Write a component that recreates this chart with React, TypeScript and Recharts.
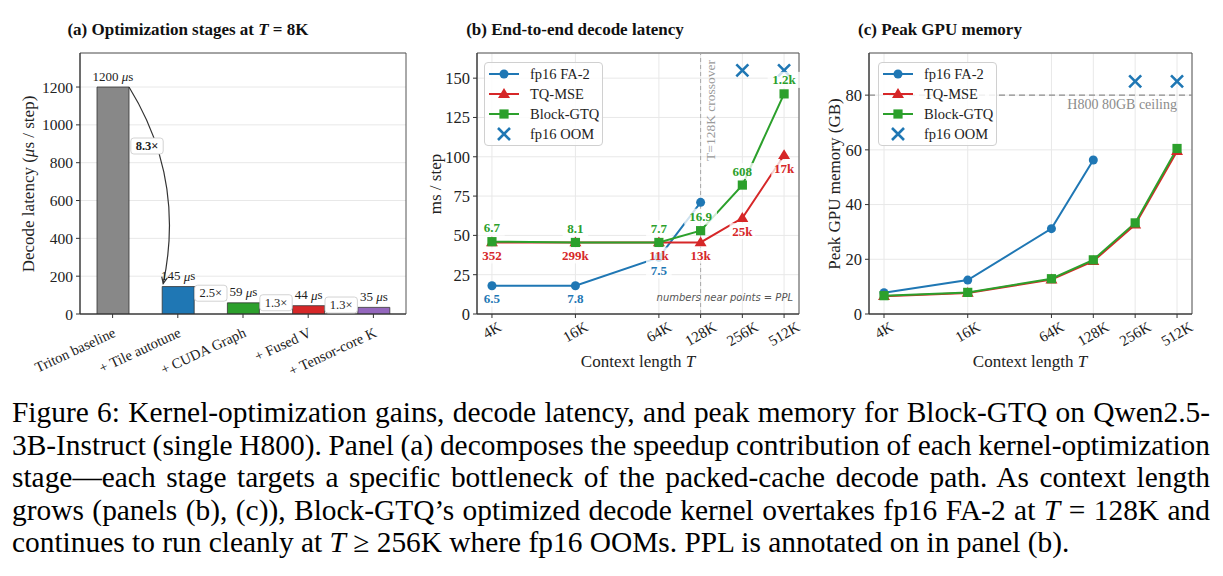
import React from 'react'
import {
  BarChart,
  Bar,
  Cell,
  LineChart,
  Line,
  XAxis,
  YAxis,
  CartesianGrid,
  ReferenceArea,
  ReferenceLine,
} from 'recharts'

// ---- panel (a): kernel optimization stages at T = 8K ----
const stages = ['Triton baseline', '+ Tile autotune', '+ CUDA Graph', '+ Fused V', '+ Tensor-core K']
const stageLatencyUs = [1200, 145, 59, 44, 35]
const stageSpeedups = ['8.3×', '2.5×', '1.3×', '1.3×']
const stageTicks = [0, 200, 400, 600, 800, 1000, 1200]

// ---- panels (b), (c): context sweep ----
const contextK = [4, 16, 64, 128, 256, 512]
const latFa2 = [18, 18, 36, 71, null, null]
const latTq = [45.5, 45.5, 45.5, 45.5, 61, 101]
const latGtq = [46, 45.5, 45.5, 53, 82, 140]
const latOom = [null, null, null, null, 155, 155]
const pplFa2 = ['6.5', '7.8', '7.5', '', '', '']
const pplTq = ['352', '299k', '11k', '13k', '25k', '17k']
const pplGtq = ['6.7', '8.1', '7.7', '16.9', '608', '1.2k']
const latTicks = [0, 25, 50, 75, 100, 125, 150]

const memFa2 = [7.8, 12.4, 31.2, 56.3, null, null]
const memTq = [6.5, 7.7, 12.6, 19.3, 32.7, 59.5]
const memGtq = [6.7, 7.9, 12.9, 19.8, 33.3, 60.5]
const memOom = [null, null, null, null, 85, 85]
const memTicks = [0, 20, 40, 60, 80]
const memCeiling = 80

const seriesNames = ['fp16 FA-2', 'TQ-MSE', 'Block-GTQ', 'fp16 OOM']

const BLUE = '#1f77b4'
const RED = '#d62728'
const GREEN = '#2ca02c'
const PURPLE = '#9467bd'
const GRAY = '#888888'
const stageColors = [GRAY, BLUE, GREEN, RED, PURPLE]
const INK = '#222'
const FRAME = '#555'
const GRID = '#e8e8e8'
const FONT = '"Liberation Serif", "Times New Roman", serif'

const stageRows = stages.map((s, i) => ({ stage: s, us: stageLatencyUs[i] }))
const latencyRows = contextK.map((k, i) => ({ ctx: k, fa2: latFa2[i], tq: latTq[i], gtq: latGtq[i], oom: latOom[i] }))
const memRows = contextK.map((k, i) => ({ ctx: k, fa2: memFa2[i], tq: memTq[i], gtq: memGtq[i], oom: memOom[i] }))

const LOG_DOMAIN = [3.12, 656]
const PLOT_A_W = 326

type Kind = 'circle' | 'triangle' | 'square' | 'x'

function Marker({ cx, cy, kind, color }: { cx: number; cy: number; kind: Kind; color: string }) {
  if (kind === 'circle') return <circle cx={cx} cy={cy} r={4.5} fill={color} />
  if (kind === 'triangle') {
    const r = 6
    return <path d={`M${cx},${cy - r}L${cx + r},${cy + r * 0.65}L${cx - r},${cy + r * 0.65}Z`} fill={color} />
  }
  if (kind === 'square') return <rect x={cx - 4.6} y={cy - 4.6} width={9.2} height={9.2} fill={color} />
  const h = 6
  return (
    <path
      d={`M${cx - h},${cy - h}L${cx + h},${cy + h}M${cx + h},${cy - h}L${cx - h},${cy + h}`}
      stroke={color}
      strokeWidth={2.6}
      fill="none"
    />
  )
}

const markerDot = (kind: Kind, color: string) => (p: any) => {
  if (p.cx == null || p.cy == null || p.value == null || Number.isNaN(+p.cy)) return <g key={`d${p.index}`} />
  return (
    <g key={`d${p.index}`}>
      <Marker cx={p.cx} cy={p.cy} kind={kind} color={color} />
    </g>
  )
}

const pplLabel = (texts: string[], color: string, dy: number) => (p: any) => {
  const t = texts[p.index]
  if (!t || p.value == null || p.y == null) return <g key={`l${p.index}`} />
  const w = t.length * 7.2 + 4
  const cy = +p.y + dy
  return (
    <g key={`l${p.index}`}>
      <rect x={+p.x - w / 2} y={cy - 8} width={w} height={16} fill="#fff" fillOpacity={0.78} />
      <text x={+p.x} y={cy} textAnchor="middle" dominantBaseline="central" fontSize={13} fontWeight="bold" fill={color}>
        {t}
      </text>
    </g>
  )
}

function arrowHead(ex: number, ey: number, dx: number, dy: number) {
  const L = Math.hypot(dx, dy)
  const ux = dx / L
  const uy = dy / L
  const a = 0.42
  const len = 7
  const c = Math.cos(a)
  const s = Math.sin(a)
  const p1x = ex - len * (ux * c - uy * s)
  const p1y = ey - len * (uy * c + ux * s)
  const p2x = ex - len * (ux * c + uy * s)
  const p2y = ey - len * (uy * c - ux * s)
  return `M${p1x},${p1y}L${ex},${ey}L${p2x},${p2y}`
}

function SpeedBox({ x, y, text, bold }: { x: number; y: number; text: string; bold?: boolean }) {
  const w = text.length * 6.6 + 6
  return (
    <g>
      <rect x={x - w / 2} y={y - 8} width={w} height={16} rx={3} fill="#fff" stroke="#c8c8c8" strokeWidth={0.8} />
      <text x={x} y={y} textAnchor="middle" dominantBaseline="central" fontSize={12.5} fontWeight={bold ? 'bold' : 'normal'} fill={INK}>
        {text}
      </text>
    </g>
  )
}

const renderStageLabel = (p: any) => {
  const i = p.index
  const x = +p.x
  const y = +p.y
  const w = +p.width
  const h = +p.height
  const v = +p.value
  const k = h / v
  const base = y + h
  const band = PLOT_A_W / stages.length
  const parts: React.ReactNode[] = [
    <text key="v" x={x + w / 2} y={y - 11} textAnchor="middle" dominantBaseline="central" fontSize={13} fill={INK}>
      {v} <tspan fontStyle="italic">μ</tspan>s
    </text>,
  ]
  if (i < stages.length - 1) {
    const nTop = base - stageLatencyUs[i + 1] * k
    const nx = x + band
    if (i === 0) {
      const sx = x + w
      const sy = y
      const ex = nx + 1
      const ey = nTop - 3
      const vx = ex - sx
      const vy = ey - sy
      const rad = 0.2
      const cx = (sx + ex) / 2 + rad * vy
      const cy = (sy + ey) / 2 - rad * vx
      parts.push(
        <g key="a">
          <path d={`M${sx},${sy}Q${cx},${cy} ${ex},${ey}`} fill="none" stroke="#333" strokeWidth={1.2} />
          <path d={arrowHead(ex, ey, ex - cx, ey - cy)} fill="none" stroke="#333" strokeWidth={1.2} />
          <SpeedBox x={sx + 18} y={sy + 0.3 * vy} text={stageSpeedups[i]} bold />
        </g>,
      )
    } else {
      const sx = x + w
      const sy = y
      const ex = nx - 2
      const ey = nTop - 3
      parts.push(
        <g key="a">
          <path d={`M${sx},${sy}L${ex},${ey}`} fill="none" stroke="#333" strokeWidth={1.1} />
          <path d={arrowHead(ex, ey, ex - sx, ey - sy)} fill="none" stroke="#333" strokeWidth={1.1} />
          <SpeedBox x={(sx + ex) / 2 + 1} y={(sy + ey) / 2} text={stageSpeedups[i]} />
        </g>,
      )
    }
  }
  return <g key={`s${i}`}>{parts}</g>
}

const StageTick = (p: any) => {
  const px = p.x + 4
  const py = p.y + 15
  return (
    <text x={px} y={py} textAnchor="end" fontSize={14.5} fill={INK} transform={`rotate(-25 ${px} ${py})`}>
      {p.payload.value}
    </text>
  )
}

const CtxTick = (p: any) => {
  const label = `${p.payload.value}K`
  const w = label.length * 7.6
  const cy = p.y + (w * 0.5 + 12 * 0.866) / 2
  return (
    <text x={p.x} y={cy} textAnchor="middle" dominantBaseline="central" fontSize={15} fill={INK} transform={`rotate(-30 ${p.x} ${cy})`}>
      {label}
    </text>
  )
}

const crossLabel = (p: any) => {
  const vb = p.viewBox
  const x = vb.x + 14
  const y = vb.y + 7
  return (
    <text x={x} y={y} transform={`rotate(-90 ${x} ${y})`} textAnchor="end" fontSize={13.5} fill="#9a9a9a">
      T=128K crossover
    </text>
  )
}

const ceilingLabel = (p: any) => {
  const vb = p.viewBox
  return (
    <text x={vb.x + vb.width - 15} y={vb.y + 9} textAnchor="end" dominantBaseline="central" fontSize={14} fill="#8c8c8c">
      H800 80GB ceiling
    </text>
  )
}

const legendRows: { kind: Kind; color: string; line: boolean }[] = [
  { kind: 'circle', color: BLUE, line: true },
  { kind: 'triangle', color: RED, line: true },
  { kind: 'square', color: GREEN, line: true },
  { kind: 'x', color: BLUE, line: false },
]

function SeriesLegend({ left, top }: { left: number; top: number }) {
  return (
    <div
      style={{
        position: 'absolute',
        left,
        top,
        width: 119,
        height: 84,
        border: '1px solid #d0d0d0',
        borderRadius: 4,
        background: 'rgba(255,255,255,0.85)',
        boxSizing: 'border-box',
      }}
    >
      {legendRows.map((r, i) => (
        <div key={i} style={{ position: 'absolute', left: 0, top: 1 + i * 20, height: 20, display: 'flex', alignItems: 'center' }}>
          <svg width={45} height={20} style={{ display: 'block' }}>
            {r.line && <line x1={4} x2={34} y1={10} y2={10} stroke={r.color} strokeWidth={2} />}
            <Marker cx={19} cy={10} kind={r.kind} color={r.color} />
          </svg>
          <span style={{ fontSize: 14.5, color: INK, whiteSpace: 'nowrap' }}>{seriesNames[i]}</span>
        </div>
      ))}
    </div>
  )
}

function Title({ cx, children }: { cx: number; children: React.ReactNode }) {
  return (
    <div
      style={{
        position: 'absolute',
        left: cx,
        top: 30,
        transform: 'translate(-50%, -50%)',
        fontSize: 17,
        fontWeight: 'bold',
        whiteSpace: 'nowrap',
        color: '#111',
      }}
    >
      {children}
    </div>
  )
}

function AxisLabel({ cx, cy, rotate, children }: { cx: number; cy: number; rotate?: boolean; children: React.ReactNode }) {
  return (
    <div
      style={{
        position: 'absolute',
        left: cx,
        top: cy,
        transform: `translate(-50%, -50%)${rotate ? ' rotate(-90deg)' : ''}`,
        fontSize: 17,
        whiteSpace: 'nowrap',
        color: INK,
        lineHeight: '20px',
      }}
    >
      {children}
    </div>
  )
}

const axisProps = {
  tickSize: 4,
  tickMargin: 3,
  axisLine: { stroke: '#333' },
  tickLine: { stroke: '#333' },
}

function PanelA() {
  return (
    <BarChart width={410} height={380} data={stageRows} margin={{ top: 53, right: 4, bottom: 36, left: 40 }}>
      <CartesianGrid vertical={false} stroke={GRID} />
      <ReferenceArea y1={0} y2={1380} fill="none" stroke={FRAME} strokeWidth={1} ifOverflow="visible" />
      <XAxis dataKey="stage" type="category" interval={0} height={30} tick={StageTick} {...axisProps} />
      <YAxis
        type="number"
        domain={[0, 1380]}
        ticks={stageTicks}
        interval={0}
        allowDataOverflow
        width={40}
        tick={{ fontSize: 15.5, fill: INK }}
        {...axisProps}
      />
      <Bar dataKey="us" barSize={32} stroke="#333" strokeWidth={0.8} isAnimationActive={false} label={renderStageLabel}>
        {stageRows.map((r, i) => (
          <Cell key={r.stage} fill={stageColors[i]} />
        ))}
      </Bar>
    </BarChart>
  )
}

function ContextChart({
  rows,
  width,
  margin,
  yDomain,
  yTicks,
  yWidth,
  withPpl,
  children,
}: {
  rows: any[]
  width: number
  margin: { top: number; right: number; bottom: number; left: number }
  yDomain: number[]
  yTicks: number[]
  yWidth: number
  withPpl: boolean
  children?: React.ReactNode
}) {
  return (
    <LineChart width={width} height={380} data={rows} margin={margin}>
      <CartesianGrid stroke={GRID} />
      <ReferenceArea y1={yDomain[0]} y2={yDomain[1]} fill="none" stroke={FRAME} strokeWidth={1} ifOverflow="visible" />
      <XAxis
        dataKey="ctx"
        type="number"
        scale="log"
        domain={LOG_DOMAIN}
        ticks={contextK}
        interval={0}
        allowDataOverflow
        height={30}
        tick={CtxTick}
        {...axisProps}
      />
      <YAxis
        type="number"
        domain={yDomain}
        ticks={yTicks}
        interval={0}
        allowDataOverflow
        width={yWidth}
        tick={{ fontSize: 16.5, fill: INK }}
        {...axisProps}
      />
      {children}
      <Line
        dataKey="fa2"
        stroke={BLUE}
        strokeWidth={2}
        dot={markerDot('circle', BLUE)}
        activeDot={false}
        isAnimationActive={false}
        label={withPpl ? pplLabel(pplFa2, BLUE, 13) : undefined}
      />
      <Line
        dataKey="tq"
        stroke={RED}
        strokeWidth={2}
        dot={markerDot('triangle', RED)}
        activeDot={false}
        isAnimationActive={false}
        label={withPpl ? pplLabel(pplTq, RED, 13) : undefined}
      />
      <Line
        dataKey="gtq"
        stroke={GREEN}
        strokeWidth={2}
        dot={markerDot('square', GREEN)}
        activeDot={false}
        isAnimationActive={false}
        label={withPpl ? pplLabel(pplGtq, GREEN, -14) : undefined}
      />
      <Line
        dataKey="oom"
        stroke="none"
        dot={markerDot('x', BLUE)}
        activeDot={false}
        isAnimationActive={false}
      />
    </LineChart>
  )
}

const captionLines: React.ReactNode[] = [
  'Figure 6: Kernel-optimization gains, decode latency, and peak memory for Block-GTQ on Qwen2.5-',
  '3B-Instruct (single H800). Panel (a) decomposes the speedup contribution of each kernel-optimization',
  'stage—each stage targets a specific bottleneck of the packed-cache decode path. As context length',
  <>
    grows (panels (b), (c)), Block-GTQ’s optimized decode kernel overtakes fp16 FA-2 at <i>T</i> = 128K and
  </>,
  <>
    continues to run cleanly at <i>T</i> ≥ 256K where fp16 OOMs. PPL is annotated on in panel (b).
  </>,
]
// per-line interword shrink, like TeX does on tight lines
const captionWordSpacing = [0, -3, 0, 0, 0]

export default function App() {
  return (
    <div style={{ position: 'relative', width: 1223, height: 576, background: '#fff', overflow: 'hidden', fontFamily: FONT, color: INK }}>
      <style>{'body{margin:0}'}</style>

      {/* (a) */}
      <div style={{ position: 'absolute', left: 0, top: 0 }}>
        <PanelA />
      </div>
      <Title cx={188}>
        (a) Optimization stages at <i>T</i> = 8K
      </Title>
      <AxisLabel cx={29} cy={184} rotate>
        Decode latency (<i>μ</i>s / step)
      </AxisLabel>

      {/* (b) */}
      <div style={{ position: 'absolute', left: 410, top: 0 }}>
        <ContextChart
          rows={latencyRows}
          width={400}
          margin={{ top: 53, right: 11, bottom: 36, left: 27 }}
          yDomain={[0, 166]}
          yTicks={latTicks}
          yWidth={40}
          withPpl
        >
          <ReferenceLine x={128} stroke="#a8a8a8" strokeDasharray="4 3" strokeWidth={1} label={crossLabel} />
        </ContextChart>
        <SeriesLegend left={74} top={62} />
        <div
          style={{
            position: 'absolute',
            left: 0,
            width: 383,
            top: 291,
            textAlign: 'right',
            fontFamily: '"DejaVu Sans", sans-serif',
            fontStyle: 'italic',
            fontSize: 10,
            lineHeight: '14px',
            color: '#555',
          }}
        >
          numbers near points = PPL
        </div>
      </div>
      <Title cx={575}>(b) End-to-end decode latency</Title>
      <AxisLabel cx={436} cy={184} rotate>
        ms / step
      </AxisLabel>
      <AxisLabel cx={638} cy={362}>
        Context length <i>T</i>
      </AxisLabel>

      {/* (c) */}
      <div style={{ position: 'absolute', left: 810, top: 0 }}>
        <ContextChart
          rows={memRows}
          width={413}
          margin={{ top: 53, right: 31, bottom: 36, left: 23 }}
          yDomain={[0, 95.4]}
          yTicks={memTicks}
          yWidth={36}
          withPpl={false}
        >
          <ReferenceLine y={memCeiling} stroke="#8c8c8c" strokeDasharray="6 4" strokeWidth={1.2} label={ceilingLabel} />
        </ContextChart>
        <SeriesLegend left={68} top={62} />
      </div>
      <Title cx={940}>(c) Peak GPU memory</Title>
      <AxisLabel cx={835} cy={184} rotate>
        Peak GPU memory (GB)
      </AxisLabel>
      <AxisLabel cx={1030} cy={362}>
        Context length <i>T</i>
      </AxisLabel>

      {/* caption */}
      <div style={{ position: 'absolute', left: 12, top: 396, width: 1198, fontSize: 29.4, lineHeight: '32.5px', color: '#000' }}>
        {captionLines.map((l, i) => (
          <div
            key={i}
            style={{
              textAlign: 'justify',
              textAlignLast: i < captionLines.length - 1 ? 'justify' : 'left',
              whiteSpace: 'nowrap',
              wordSpacing: captionWordSpacing[i],
            }}
          >
            {l}
          </div>
        ))}
      </div>
    </div>
  )
}
